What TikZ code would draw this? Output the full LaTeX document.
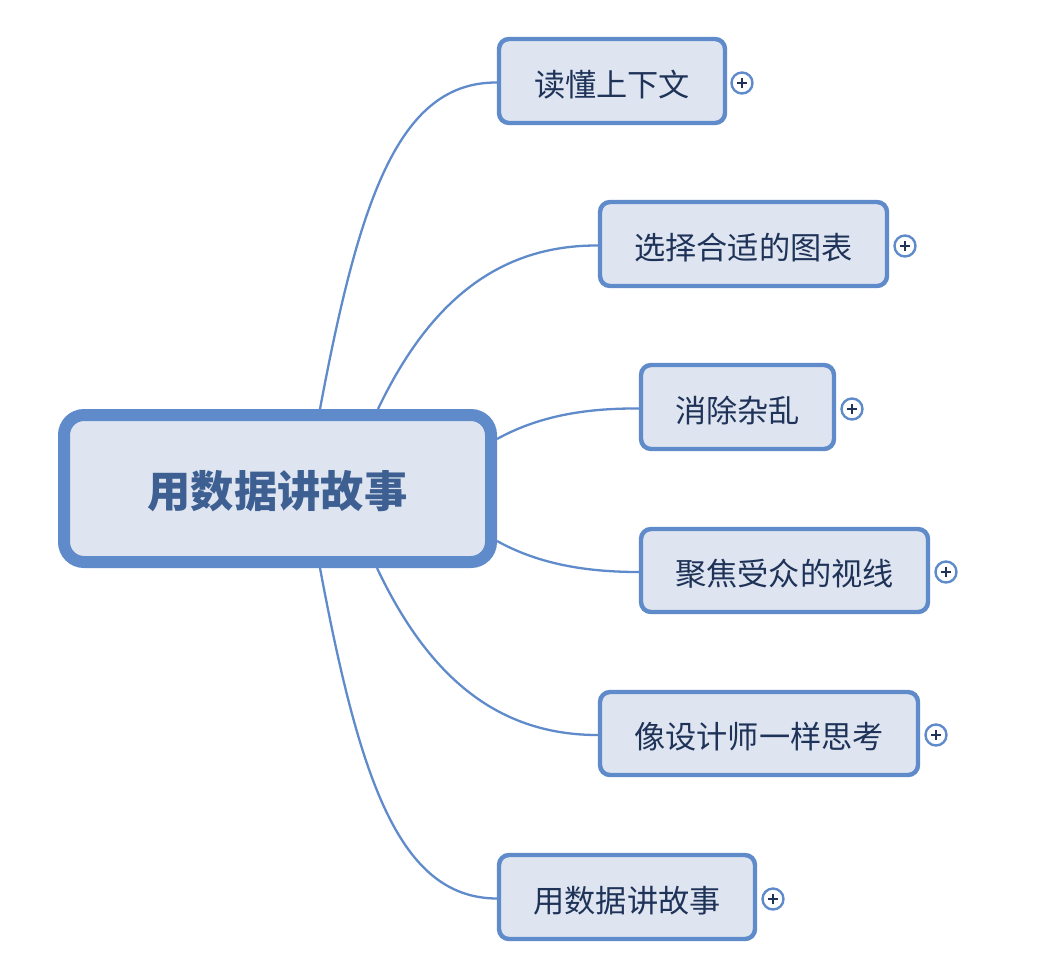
\documentclass[tikz,border=0pt]{standalone}
\usepackage{fontspec}
\setmainfont{Noto Sans CJK SC}
\definecolor{edgeblue}{HTML}{5F8BCB}
\definecolor{fillblue}{HTML}{DEE5F1}
\definecolor{textdark}{HTML}{1F3358}
\definecolor{textroot}{HTML}{3D5F91}
\tikzset{
  boxnode/.style={draw=edgeblue,fill=fillblue,rounded corners=10pt,line width=4.4pt,inner sep=0pt,text=textdark,text height=30pt,text depth=0pt,font=\fontsize{31.2}{36}\selectfont},
  rootnode/.style={draw=edgeblue,fill=fillblue,rounded corners=20pt,line width=12pt,inner sep=0pt,text=textroot,text height=37pt,text depth=0pt,font=\fontsize{43.3}{50}\selectfont\bfseries},
  link/.style={draw=edgeblue,line width=2.3pt},
  plusnode/.style={draw=edgeblue,fill=white,circle,line width=2.4pt,minimum size=21pt,inner sep=0pt,path picture={\draw[textdark,line width=2.6pt] (path picture bounding box.center)+(-5pt,0)--+(5pt,0) (path picture bounding box.center)+(0,-5pt)--+(0,5pt);}}
}
\begin{document}
\begin{tikzpicture}[x=1pt,y=-1pt]
\useasboundingbox (0,0) rectangle (1040,962);
\coordinate (r1) at (320,409);
\coordinate (r2) at (378,409);
\coordinate (r3) at (497,439);
\coordinate (r4) at (497,541);
\coordinate (r5) at (377,568);
\coordinate (r6) at (320,568);
\node[rootnode,minimum width=427pt,minimum height=147pt] (root) at (277.5,488.5) {用数据讲故事};
\node[boxnode,minimum width=226pt,minimum height=84pt] (b1) at (612,81) {读懂上下文};
\node[boxnode,minimum width=287pt,minimum height=84pt] (b2) at (743.5,244) {选择合适的图表};
\node[boxnode,minimum width=193pt,minimum height=84pt] (b3) at (737.5,407) {消除杂乱};
\node[boxnode,minimum width=287pt,minimum height=83pt] (b4) at (784.5,570.5) {聚焦受众的视线};
\node[boxnode,minimum width=318pt,minimum height=83pt] (b5) at (759,733.5) {像设计师一样思考};
\node[boxnode,minimum width=256pt,minimum height=84pt] (b6) at (627,897) {用数据讲故事};
\node[plusnode] (p1) at (742,83) {};
\node[plusnode] (p2) at (905,246) {};
\node[plusnode] (p3) at (852,409) {};
\node[plusnode] (p4) at (946,572) {};
\node[plusnode] (p5) at (936,735) {};
\node[plusnode] (p6) at (773,899) {};
\draw[link] (r1) .. controls (360,195) and (400,82) .. ([yshift=-1.5pt]b1.west);
\draw[link] (r2) .. controls (430,300) and (500,245) .. ([yshift=-1.5pt]b2.west);
\draw[link] (r3) .. controls (535,418) and (580,408) .. ([yshift=-1.5pt]b3.west);
\draw[link] (r4) .. controls (535,562) and (580,572) .. ([yshift=-1.5pt]b4.west);
\draw[link] (r5) .. controls (430,680) and (500,735) .. ([yshift=-1.5pt]b5.west);
\draw[link] (r6) .. controls (360,782) and (400,898) .. ([yshift=-1.5pt]b6.west);
\end{tikzpicture}
\end{document}
